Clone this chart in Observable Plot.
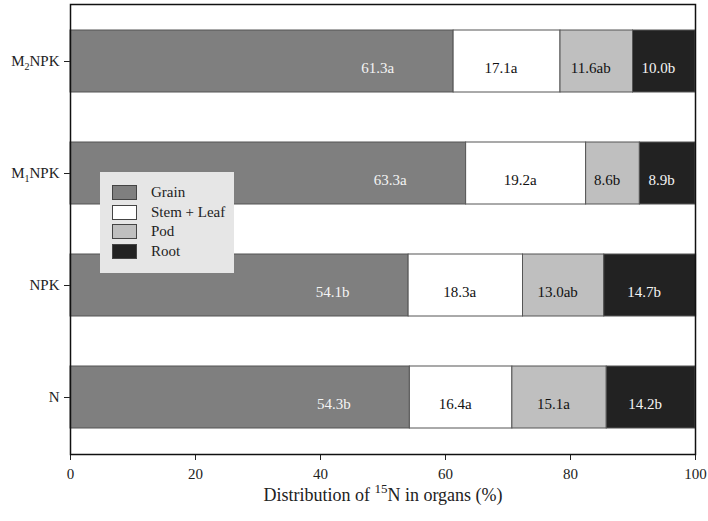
<!DOCTYPE html>
<html>
<head>
<meta charset="utf-8">
<script src="https://cdn.jsdelivr.net/npm/d3@7"></script>
<script src="https://cdn.jsdelivr.net/npm/@observablehq/plot@0.6"></script>
<style>
  html, body { margin: 0; padding: 0; background: #fff; }
  #wrap { position: relative; width: 708px; height: 521px; font-family: 'Liberation Serif', serif; }
  #wrap svg, #wrap svg text { font-family: 'Liberation Serif', serif !important; }
  #legend { position: absolute; left: 100px; top: 172px; width: 134px; height: 101px; background: #e6e6e6; box-sizing: border-box; padding-top: 11px; }
  .item { display: flex; align-items: center; height: 19.5px; font-size: 15px; color: #222; }
  .sw { width: 25px; height: 15px; margin-left: 12px; margin-right: 14px; border: 1px solid #444; box-sizing: border-box; }
</style>
</head>
<body>
<div id="wrap"></div>
<script>
const categories = ["M2NPK", "M1NPK", "NPK", "N"];
const organs = ["Grain", "Stem + Leaf", "Pod", "Root"];
const grain = [61.3, 63.3, 54.1, 54.3];
const stem = [17.1, 19.2, 18.3, 16.4];
const pod = [11.6, 8.6, 13.0, 15.1];
const root = [10.0, 8.9, 14.7, 14.2];
const grainLetters = ["a", "a", "b", "b"];
const stemLetters = ["a", "a", "a", "a"];
const podLetters = ["ab", "b", "ab", "a"];
const rootLetters = ["b", "b", "b", "b"];
const xTicks = [0, 20, 40, 60, 80, 100];
const colors = ["#7f7f7f", "#ffffff", "#bfbfbf", "#222222"];
const labelColors = ["#f4f4f4", "#111111", "#111111", "#f4f4f4"];

const seriesVals = [grain, stem, pod, root];
const seriesLetters = [grainLetters, stemLetters, podLetters, rootLetters];
const rows = [];
categories.forEach((c, i) => {
  let cum = 0;
  organs.forEach((o, j) => {
    const v = seriesVals[j][i];
    rows.push({cat: c, organ: o, idx: j, value: v, x1: cum, x2: cum + v, label: v.toFixed(1) + seriesLetters[j][i]});
    cum += v;
  });
});

const font = "'Liberation Serif', serif";

const chart = Plot.plot({
  width: 708,
  height: 521,
  marginLeft: 70,
  marginRight: 13,
  marginTop: 4,
  marginBottom: 67,
  style: {fontFamily: font, fontSize: "15px", color: "#222", background: "#fff"},
  x: {domain: [0, 100], ticks: xTicks, tickSize: 6, tickPadding: 8, label: "Distribution of 15N in organs (%)", labelAnchor: "center", labelOffset: 46},
  y: {domain: categories, paddingInner: 0.45, paddingOuter: 0.225, tickSize: 6, tickPadding: 5, label: null},
  color: {domain: organs, range: colors},
  marks: [
    Plot.barX(rows, {x1: "x1", x2: "x2", y: "cat", fill: "organ", stroke: "#555", strokeWidth: 1}),
    Plot.text(rows.filter(d => d.idx === 0), {x: "x2", y: "cat", text: "label", fill: labelColors[0], dx: -76, dy: 7, fontSize: 15}),
    Plot.text(rows.filter(d => d.idx > 0), {x: d => (d.x1 + d.x2) / 2, y: "cat", text: "label", fill: d => labelColors[d.idx], dx: -6, dy: 7, fontSize: 15}),
    Plot.frame({stroke: "#111", strokeWidth: 1.5})
  ]
});

document.getElementById("wrap").appendChild(chart);

// Subscripts in y tick labels
d3.select(chart).selectAll('g[aria-label="y-axis tick label"] text').each(function() {
  const t = d3.select(this);
  const s = t.text();
  const m = s.match(/^M(\d)(NPK)$/);
  if (m) {
    t.text("");
    t.append("tspan").text("M");
    t.append("tspan").attr("font-size", "10px").attr("dy", "4").text(m[1]);
    t.append("tspan").attr("dy", "-4").text(m[2]);
  }
});
// Superscript in x label
d3.select(chart).selectAll('g[aria-label="x-axis label"] text').each(function() {
  const t = d3.select(this);
  t.attr("font-size", "18px");
  t.text("");
  t.append("tspan").text("Distribution of ");
  t.append("tspan").attr("font-size", "13px").attr("dy", "-8").text("15");
  t.append("tspan").attr("dy", "8").text("N in organs (%)");
});

// Legend
const legend = document.createElement("div");
legend.id = "legend";
organs.forEach((o, j) => {
  const it = document.createElement("div");
  it.className = "item";
  const sw = document.createElement("span");
  sw.className = "sw";
  sw.style.background = colors[j];
  const lb = document.createElement("span");
  lb.textContent = o;
  it.appendChild(sw); it.appendChild(lb);
  legend.appendChild(it);
});
document.getElementById("wrap").appendChild(legend);
</script>
</body>
</html>
